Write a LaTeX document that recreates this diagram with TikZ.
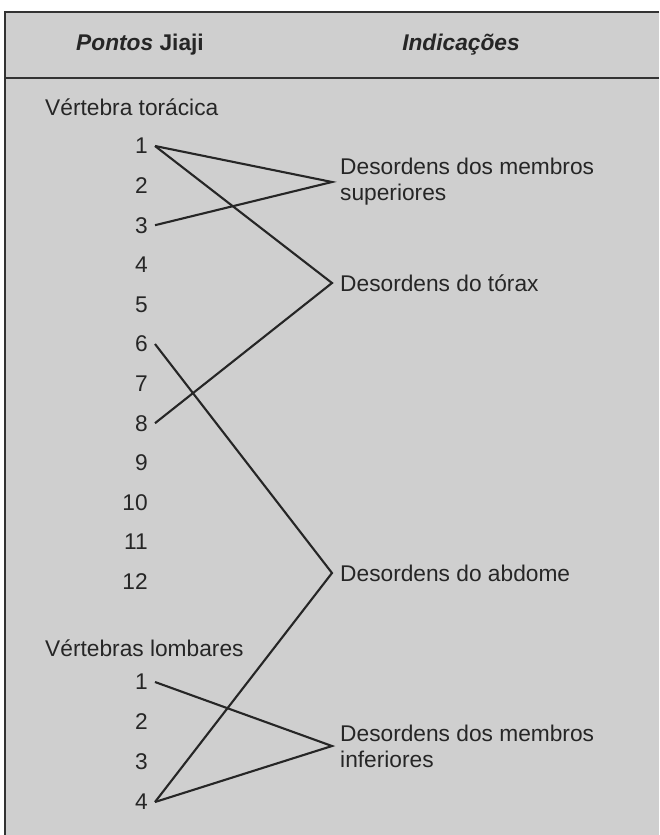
\documentclass[tikz,border=0pt]{standalone}
\usepackage{fontspec}
\setmainfont{Liberation Sans}

\begin{document}
\begin{tikzpicture}[x=0.03cm, y=-0.03cm,
    every node/.style={font=\fontsize{19.4}{22}\selectfont, text=black!85},
    head/.style={font=\fontsize{19.4}{22}\selectfont\bfseries},
    num/.style={anchor=east, inner xsep=6pt, inner ysep=0pt},
    group/.style={anchor=west, inner sep=0pt},
    indic/.style={anchor=west, align=left, inner xsep=6.8pt, inner ysep=0pt},
    link/.style={line width=1.8pt, black!85}]
  \useasboundingbox (0,0) rectangle (659,835);
  % Frame and header
  \fill[black!19] (5,12) rectangle (659,835); % Grey page
  \draw[line width=2pt, black!80] (659,12) -- (5,12) -- (5,835); % Top and left edge
  \draw[line width=1.6pt, black!80] (5,78) -- (659,78); % Under the header
  \node[head] (hpontos) at (140,45) {\textit{Pontos} Jiaji};
  \node[head] (hindic) at (461,45) {\textit{Indicações}};

  % Thoracic vertebrae
  \node[group] (torlab) at (45,107) {Vértebra torácica};
  \foreach \n in {1,...,12} {
    \node[num] (t\n) at (155,{146+39.6*(\n-1)}) {\n}; % T1 to T12
  }

  % Lumbar vertebrae
  \node[group] (lomlab) at (45,648) {Vértebras lombares};
  \foreach \n in {1,...,4} {
    \node[num] (l\n) at (155,{682+40*(\n-1)}) {\n}; % L1 to L4
  }

  % Indications
  \node[indic] (sup) at (332,182) {Desordens dos membros\\superiores};
  \node[indic] (tor) at (332,283) {Desordens do tórax};
  \node[indic] (abd) at (332,573) {Desordens do abdome};
  \node[indic] (inf) at (332,746) {Desordens dos membros\\inferiores};

  % Connections
  \draw[link] (t1.east) -- (sup.west) -- (t3.east);
  \draw[link] (t1.east) -- (tor.west) -- (t8.east);
  \draw[link] (t6.east) -- (abd.west) -- (l4.east);
  \draw[link] (l1.east) -- (inf.west) -- (l4.east);
\end{tikzpicture}
\end{document}
